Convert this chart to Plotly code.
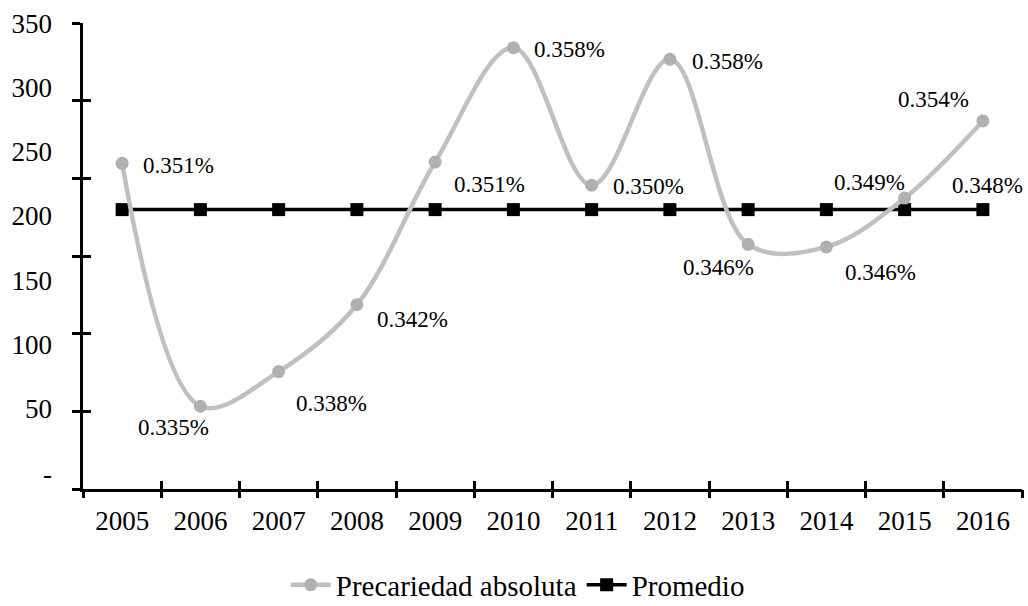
import plotly.graph_objects as go

# ---- data ----
years = [2005, 2006, 2007, 2008, 2009, 2010, 2011, 2012, 2013, 2014, 2015, 2016]
precariedad = [241, 52, 79, 131, 242, 331, 224, 322, 178, 176, 214, 274]
promedio = [205, 205, 205, 205, 205, 205, 205, 205, 205, 205, 205, 205]
pct_labels = ["0.351%", "0.335%", "0.338%", "0.342%", "0.351%", "0.358%",
              "0.350%", "0.358%", "0.346%", "0.346%", "0.349%", "0.354%"]
promedio_label = "0.348%"
ytick_vals = [0, 50, 100, 150, 200, 250, 300, 350]
ytick_text = ["-", "50", "100", "150", "200", "250", "300", "350"]

# ---- style (label offsets in px: dx right, dy down) ----
label_offsets = [(56, 2), (-27, 21), (53, 32), (56, 15), (54, 22), (56, 2),
                 (57, 1), (58, 2), (-30, 23), (54, 26), (-35, -16), (-49, -21)]
promedio_offset = (5, -24)

FONT = "Liberation Serif, Times New Roman, serif"

fig = go.Figure()
fig.add_trace(go.Scatter(
    x=years, y=promedio, mode="lines+markers", name="Promedio",
    line=dict(color="black", width=3.5),
    marker=dict(symbol="square", size=13, color="black"),
))
fig.add_trace(go.Scatter(
    x=years, y=precariedad, mode="lines+markers", name="Precariedad absoluta",
    line=dict(color="#c0c0c0", width=4.5, shape="spline", smoothing=1),
    marker=dict(symbol="circle", size=13, color="#aeb1b4"),
))
# empty helper traces so the overlaid tick-mark axes are drawn
for ax in ("2", "3"):
    fig.add_trace(go.Scatter(x=[None], y=[None], xaxis="x" + ax, yaxis="y" + ax,
                             showlegend=False, hoverinfo="skip", mode="markers"))

annotations = []
for x, y, t, (dx, dy) in zip(years, precariedad, pct_labels, label_offsets):
    annotations.append(dict(x=x, y=y, xref="x", yref="y", text=t, showarrow=False,
                            xshift=dx, yshift=-dy,
                            font=dict(family=FONT, size=23, color="black")))
annotations.append(dict(x=years[-1], y=promedio[-1], xref="x", yref="y",
                        text=promedio_label, showarrow=False,
                        xshift=promedio_offset[0], yshift=-promedio_offset[1],
                        font=dict(family=FONT, size=23, color="black")))

tick_axis = dict(showticklabels=False, showgrid=False, zeroline=False,
                 ticklen=8, tickwidth=2.5, tickcolor="black", automargin=False)

fig.update_layout(
    width=1028, height=606,
    margin=dict(l=83, r=6, t=23, b=117),
    paper_bgcolor="white", plot_bgcolor="white",
    font=dict(family=FONT, size=27, color="black"),
    showlegend=True,
    legend=dict(orientation="h", x=0.463, xanchor="center",
                yref="container", y=0.035, yanchor="middle",
                traceorder="reversed", font=dict(family=FONT, size=29, color="black"),
                itemwidth=40),
    annotations=annotations,
    xaxis=dict(range=[2004.5, 2016.5], tickmode="array", tickvals=years,
               ticks="", showgrid=False, zeroline=False, automargin=False,
               showline=True, linecolor="black", linewidth=2.5,
               ticklabelstandoff=6, tickfont=dict(family=FONT, size=27)),
    xaxis2=dict(overlaying="x", range=[2004.5, 2016.5], tick0=2004.5, dtick=1,
                ticks="outside", showline=False, anchor="y2", **tick_axis),
    xaxis3=dict(overlaying="x", range=[2004.5, 2016.5], tick0=2004.5, dtick=1,
                ticks="inside", showline=False, anchor="y3", **tick_axis),
    yaxis=dict(range=[-12.4, 350.2], tickmode="array", tickvals=ytick_vals,
               ticktext=ytick_text, ticks="", showgrid=False, zeroline=False,
               showline=False, automargin=False, ticklabelstandoff=30,
               tickfont=dict(family=FONT, size=27)),
    yaxis2=dict(overlaying="y", range=[0, 6], tick0=0, dtick=1,
                ticks="outside", showline=True, linecolor="black", linewidth=2.5,
                anchor="x2", **tick_axis),
    yaxis3=dict(overlaying="y", range=[0, 6], tick0=0, dtick=1,
                ticks="inside", showline=False, anchor="x3", **tick_axis),
)

fig.write_html("out.html", config={"displayModeBar": False},
               post_script="document.body.style.margin='0px';document.body.style.overflow='hidden';")
